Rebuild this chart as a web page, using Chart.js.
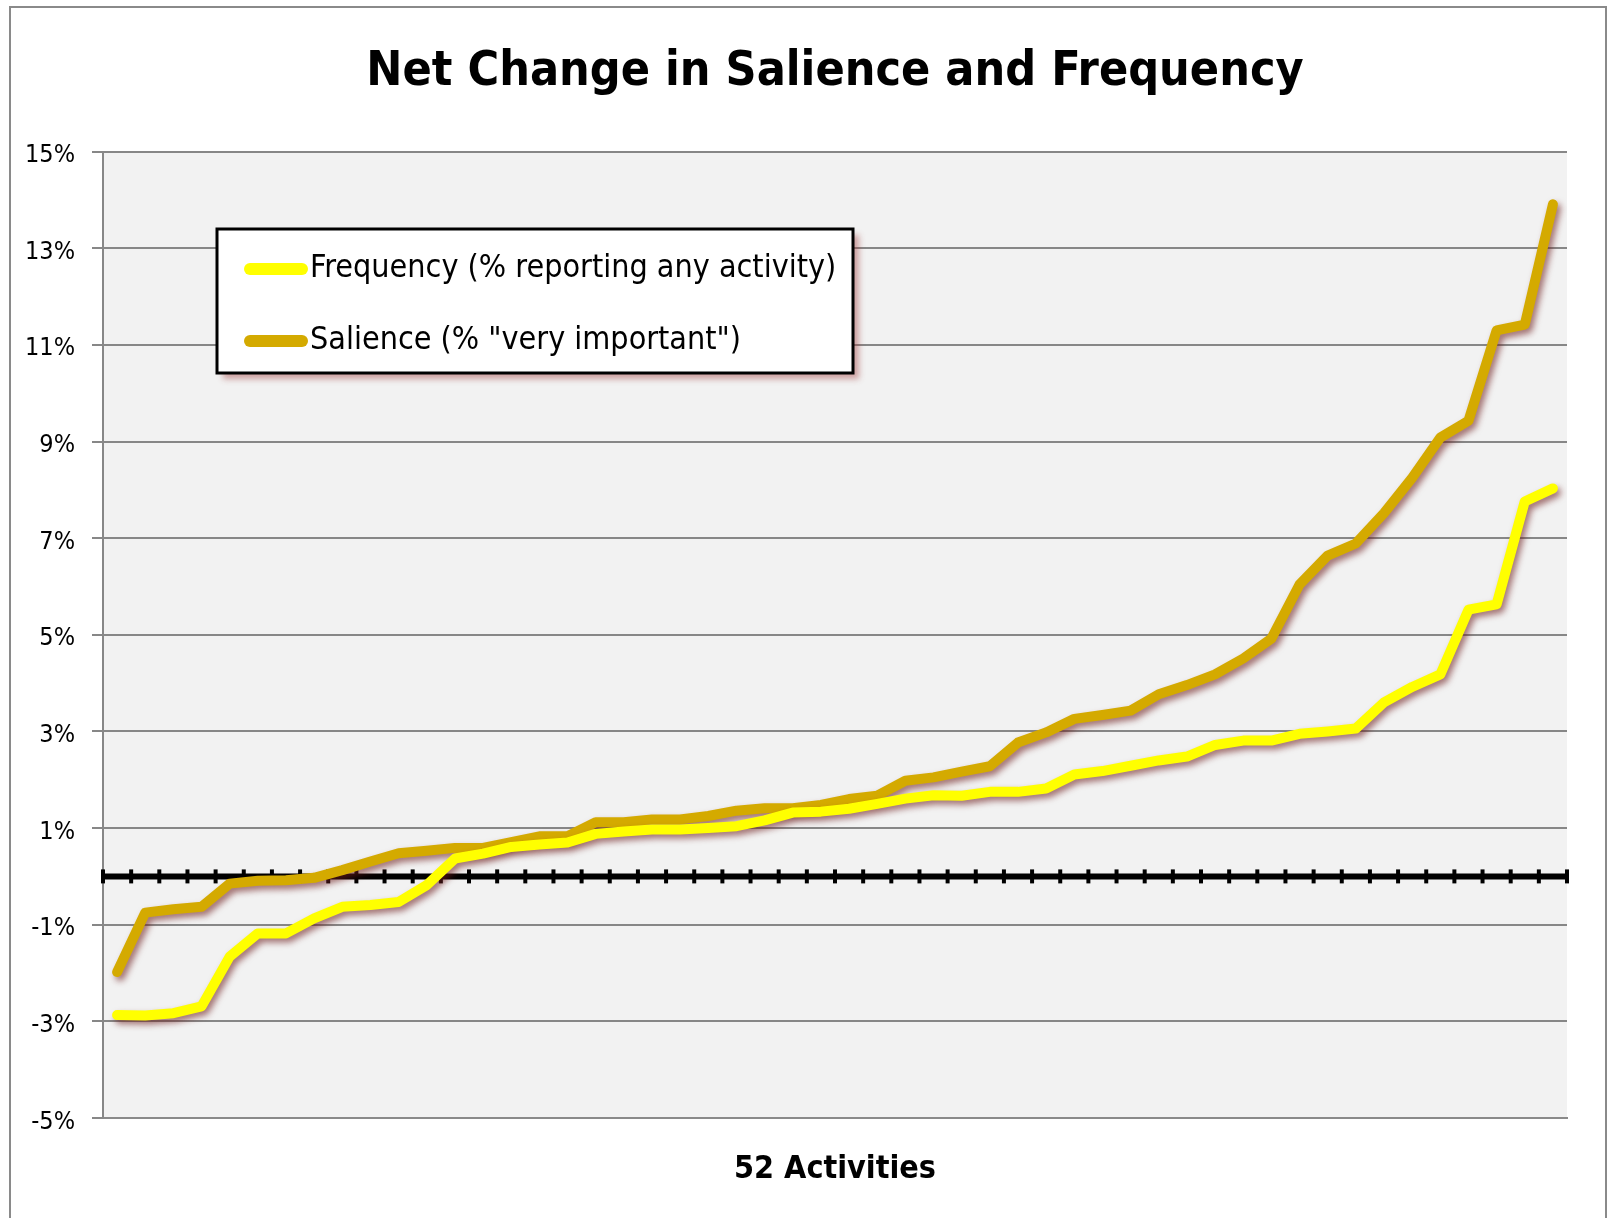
<!DOCTYPE html>
<html>
<head>
<meta charset="utf-8">
<title>Net Change in Salience and Frequency</title>
<script src="https://cdn.jsdelivr.net/npm/chart.js@4/dist/chart.umd.min.js"></script>
<style>
  html, body { margin: 0; padding: 0; background: #fff; }
  canvas { display: block; }
</style>
</head>
<body>
<canvas id="myChart" width="1614" height="1218"></canvas>
<script>
var FONT = "'DejaVu Sans Condensed', 'DejaVu Sans', sans-serif";

// 52 activities, sorted by net change
var activities = [];
for (let n = 1; n <= 52; n++) activities.push(String(n));

var frequency = [
  -2.87, -2.88, -2.83, -2.69, -1.66, -1.18, -1.18, -0.87, -0.63, -0.59,
  -0.53, -0.18, 0.37, 0.47, 0.61, 0.66, 0.70, 0.88, 0.93, 0.97,
  0.97, 1.00, 1.04, 1.16, 1.32, 1.34, 1.40, 1.50, 1.61, 1.68,
  1.67, 1.75, 1.75, 1.82, 2.11, 2.18, 2.29, 2.40, 2.48, 2.72,
  2.81, 2.81, 2.95, 3.00, 3.06, 3.60, 3.92, 4.18, 5.52, 5.63,
  7.76, 8.03
];
var salience = [
  -1.98, -0.75, -0.68, -0.63, -0.15, -0.09, -0.08, -0.03, 0.13, 0.31,
  0.48, 0.53, 0.59, 0.59, 0.71, 0.83, 0.83, 1.12, 1.12, 1.18,
  1.18, 1.25, 1.36, 1.41, 1.41, 1.48, 1.60, 1.67, 1.98, 2.05,
  2.17, 2.28, 2.77, 2.98, 3.26, 3.34, 3.43, 3.77, 3.96, 4.18,
  4.51, 4.92, 6.04, 6.64, 6.89, 7.52, 8.25, 9.08, 9.43, 11.30,
  11.42, 13.91
];
var seriesNames = ['Frequency (% reporting any activity)', 'Salience (% "very important")'];
var seriesColors = ['#ffff00', '#d4aa00'];
var yMin = -5, yMax = 15, yStep = 2;

// white page, grey frame, light grey plot area
var chartFrame = {
  id: 'chartFrame',
  beforeDraw(chart) {
    const ctx = chart.ctx, a = chart.chartArea;
    ctx.save();
    ctx.fillStyle = '#fff';
    ctx.fillRect(0, 0, chart.width, chart.height);
    ctx.strokeStyle = '#8a8a8a';
    ctx.lineWidth = 2;
    ctx.strokeRect(10, 7, 1596, 1260);
    ctx.fillStyle = '#f2f2f2';
    ctx.fillRect(a.left, a.top, a.right - a.left, a.bottom - a.top);
    ctx.restore();
  }
};

// thick black line at 0% with a tick at every category boundary
var zeroLine = {
  id: 'zeroLine',
  beforeDatasetsDraw(chart) {
    const ctx = chart.ctx, x = chart.scales.x, y = chart.scales.y;
    const y0 = y.getPixelForValue(0);
    const step = x.getPixelForValue(1) - x.getPixelForValue(0);
    ctx.save();
    ctx.strokeStyle = '#000';
    ctx.lineWidth = 6;
    ctx.beginPath();
    ctx.moveTo(x.left, y0);
    ctx.lineTo(x.right, y0);
    ctx.stroke();
    ctx.lineWidth = 4;
    for (let i = 0; i <= activities.length; i++) {
      const px = x.getPixelForValue(0) - step / 2 + i * step;
      ctx.beginPath();
      ctx.moveTo(px, y0 - 7);
      ctx.lineTo(px, y0 + 7);
      ctx.stroke();
    }
    ctx.restore();
  }
};

var lineShadow = {
  id: 'lineShadow',
  beforeDatasetDraw(chart) {
    const c = chart.ctx;
    c.save();
    c.shadowColor = 'rgba(110,30,30,0.6)';
    c.shadowBlur = 6;
    c.shadowOffsetX = 3;
    c.shadowOffsetY = 4;
  },
  afterDatasetDraw(chart) {
    chart.ctx.restore();
  }
};

// boxed legend inside the plot
var boxLegend = {
  id: 'boxLegend',
  afterDraw(chart) {
    const ctx = chart.ctx;
    const bx = 217, by = 229, bw = 636, bh = 144;
    ctx.save();
    ctx.shadowColor = 'rgba(160,60,60,0.45)';
    ctx.shadowBlur = 6;
    ctx.shadowOffsetX = 6;
    ctx.shadowOffsetY = 6;
    ctx.fillStyle = '#fff';
    ctx.fillRect(bx, by, bw, bh);
    ctx.restore();
    ctx.save();
    ctx.strokeStyle = '#000';
    ctx.lineWidth = 3;
    ctx.strokeRect(bx, by, bw, bh);
    ctx.font = '32px ' + FONT;
    ctx.textBaseline = 'middle';
    ctx.fillStyle = '#000';
    chart.data.datasets.forEach(function (ds, i) {
      const ry = by + 40 + i * 72;
      ctx.strokeStyle = ds.borderColor;
      ctx.lineWidth = 12;
      ctx.lineCap = 'round';
      ctx.beginPath();
      ctx.moveTo(250, ry);
      ctx.lineTo(302, ry);
      ctx.stroke();
      ctx.fillText(ds.label, 310, ry);
    });
    ctx.restore();
  }
};

new Chart('myChart', {
  type: 'line',
  data: {
    labels: activities,
    datasets: [
      {
        label: seriesNames[0],
        data: frequency,
        borderColor: seriesColors[0],
        borderWidth: 10,
        pointRadius: 0,
        fill: false,
        tension: 0,
        borderCapStyle: 'round',
        borderJoinStyle: 'round'
      },
      {
        label: seriesNames[1],
        data: salience,
        borderColor: seriesColors[1],
        borderWidth: 10,
        pointRadius: 0,
        fill: false,
        tension: 0,
        borderCapStyle: 'round',
        borderJoinStyle: 'round'
      }
    ]
  },
  options: {
    responsive: false,
    animation: false,
    layout: { padding: { top: 0, right: 47, bottom: 0, left: 0 } },
    plugins: {
      legend: { display: false },
      tooltip: { enabled: false },
      title: {
        display: true,
        text: 'Net Change in Salience and Frequency',
        fullSize: false,
        color: '#000',
        font: { family: FONT, size: 48, weight: 'bold' },
        padding: { top: 44, bottom: 50 }
      }
    },
    scales: {
      x: {
        offset: true,
        grid: { display: false },
        border: { color: '#8a8a8a', width: 2 },
        ticks: { display: false },
        title: {
          display: true,
          text: '52 Activities',
          color: '#000',
          font: { family: FONT, size: 32, weight: 'bold' },
          padding: { top: 0, bottom: 29 }
        },
        afterFit(s) { s.height = 100; }
      },
      y: {
        min: yMin,
        max: yMax,
        ticks: {
          stepSize: yStep,
          callback: function (v) { return v + '%'; },
          color: '#000',
          font: { family: FONT, size: 25 },
          padding: 17,
          labelOffset: 4
        },
        grid: { color: '#878787', lineWidth: 2, tickLength: 11 },
        border: { color: '#878787', width: 2 },
        afterFit(s) { s.width = 103; }
      }
    }
  },
  plugins: [chartFrame, zeroLine, lineShadow, boxLegend]
});
</script>
</body>
</html>
